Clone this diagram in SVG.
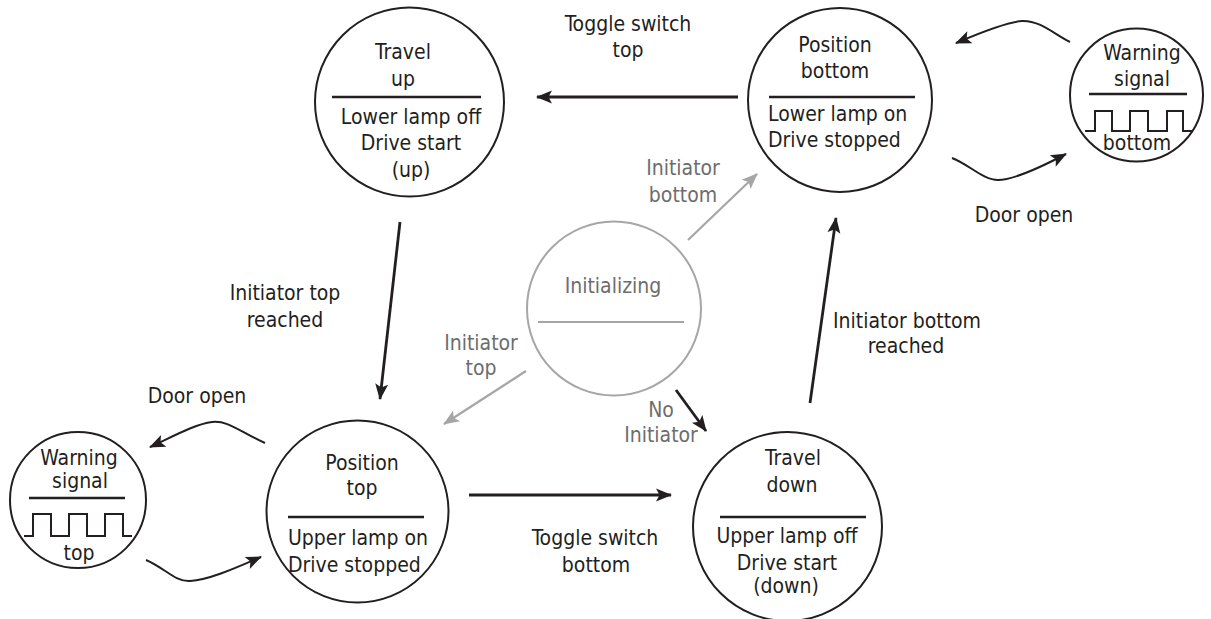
<svg xmlns="http://www.w3.org/2000/svg" width="1211" height="619" viewBox="0 0 1211 619">
<style>
text{font-family:'DejaVu Sans Condensed','DejaVu Sans',sans-serif;font-stretch:condensed;font-size:21px;fill:#231f20;text-anchor:middle}
text.g{fill:#6d6d6d}
.c{fill:#fff;stroke:#231f20;stroke-width:2}
.cg{fill:#fff;stroke:#a6a6a6;stroke-width:2}
.d{stroke:#231f20;stroke-width:2.6;fill:none}
.dg{stroke:#a6a6a6;stroke-width:2;fill:none}
.w{stroke:#231f20;stroke-width:2;fill:none}
.a{stroke:#231f20;stroke-width:2.8;fill:none;marker-end:url(#ab)}
.ag{stroke:#a6a6a6;stroke-width:2.2;fill:none;marker-end:url(#ag)}
.cv{stroke:#231f20;stroke-width:2;fill:none;marker-end:url(#ab)}
</style>
<defs>
<marker id="ab" markerUnits="userSpaceOnUse" markerWidth="16" markerHeight="13" refX="15" refY="6.5" orient="auto" overflow="visible"><path d="M0,0 L16,6.5 L0,13 L3.5,6.5 Z" fill="#231f20"/></marker>
<marker id="ag" markerUnits="userSpaceOnUse" markerWidth="16" markerHeight="13" refX="15" refY="6.5" orient="auto" overflow="visible"><path d="M0,0 L16,6.5 L0,13 L3.5,6.5 Z" fill="#a6a6a6"/></marker>
</defs>
<g id="connectors">
<path class="a" d="M738,97 L537,97"/>
<path class="a" d="M400,222 L380,399"/>
<path class="a" d="M469,495 L671,495"/>
<path class="a" d="M810,403 L836,218"/>
<path class="a" d="M676,390 L706,431"/>
<path class="ag" d="M688,240 L757,174"/>
<path class="ag" d="M526,371 L444,424"/>
<path class="cv" d="M265,443 C240,432 228,420 212,422 C195,424 170,438 150,447"/>
<path class="cv" d="M146,560 C165,568 175,582 190,581 C210,580 240,566 261,557"/>
<path class="cv" d="M952,158 C970,165 983,180 998,180 C1015,180 1045,165 1066,154"/>
<path class="cv" d="M1070,42 C1055,35 1040,20 1022,21 C1005,22 975,35 956,43"/>
</g>
<g id="labels">
<text x="628" y="31">Toggle switch</text>
<text x="628" y="57">top</text>
<text x="595" y="545">Toggle switch</text>
<text x="596" y="572">bottom</text>
<text x="285" y="300">Initiator top</text>
<text x="285" y="327">reached</text>
<text x="907" y="328">Initiator bottom</text>
<text x="906" y="353">reached</text>
<text x="197" y="403">Door open</text>
<text x="1024" y="222">Door open</text>
<text class="g" x="683" y="175">Initiator</text>
<text class="g" x="683" y="202">bottom</text>
<text class="g" x="481" y="350">Initiator</text>
<text class="g" x="481" y="375">top</text>
<text class="g" x="661" y="417">No</text>
<text class="g" x="661" y="442">Initiator</text>
</g>
<g id="travel-up">
<circle class="c" cx="409.5" cy="102" r="94.5"/>
<line class="d" x1="332" y1="97" x2="481" y2="97"/>
<text x="403" y="59">Travel</text>
<text x="403" y="86">up</text>
<text x="411" y="124">Lower lamp off</text>
<text x="411" y="150">Drive start</text>
<text x="411" y="177">(up)</text>
</g>
<g id="position-bottom">
<circle class="c" cx="840" cy="100" r="92"/>
<line class="d" x1="769" y1="97" x2="915" y2="97"/>
<text x="835" y="52">Position</text>
<text x="835" y="78">bottom</text>
<text x="768" y="121" text-anchor="start" style="text-anchor:start">Lower lamp on</text>
<text x="768" y="147" style="text-anchor:start">Drive stopped</text>
</g>
<g id="warning-bottom">
<circle class="c" cx="1136.5" cy="95" r="66.5"/>
<line class="d" x1="1089" y1="94" x2="1187" y2="94"/>
<text x="1142" y="60">Warning</text>
<text x="1142" y="86">signal</text>
<path class="w" d="M1085,131 H1095 V111 H1112 V131 H1130 V111 H1148 V131 H1167 V111 H1183 V131 H1193"/>
<text x="1137" y="150">bottom</text>
</g>
<g id="initializing">
<circle class="cg" cx="614" cy="308.5" r="87"/>
<line class="dg" x1="538" y1="322" x2="684" y2="322"/>
<text class="g" x="613" y="293">Initializing</text>
</g>
<g id="position-top">
<circle class="c" cx="357.5" cy="511.5" r="91"/>
<line class="d" x1="288" y1="517" x2="424" y2="517"/>
<text x="362" y="470">Position</text>
<text x="362" y="495">top</text>
<text x="288" y="545" style="text-anchor:start">Upper lamp on</text>
<text x="288" y="572" style="text-anchor:start">Drive stopped</text>
</g>
<g id="warning-top">
<circle class="c" cx="78" cy="500" r="68"/>
<line class="d" x1="29" y1="498" x2="125" y2="498"/>
<text x="79" y="465">Warning</text>
<text x="80" y="488">signal</text>
<path class="w" d="M24,536 H33 V514 H51 V536 H69 V514 H87 V536 H105 V514 H123 V536 H132"/>
<text x="79" y="560">top</text>
</g>
<g id="travel-down">
<circle class="c" cx="787.5" cy="526.5" r="94.5"/>
<line class="d" x1="720" y1="517" x2="866" y2="517"/>
<text x="793" y="465">Travel</text>
<text x="792" y="492">down</text>
<text x="787" y="543">Upper lamp off</text>
<text x="787" y="570">Drive start</text>
<text x="786" y="593">(down)</text>
</g>
</svg>
